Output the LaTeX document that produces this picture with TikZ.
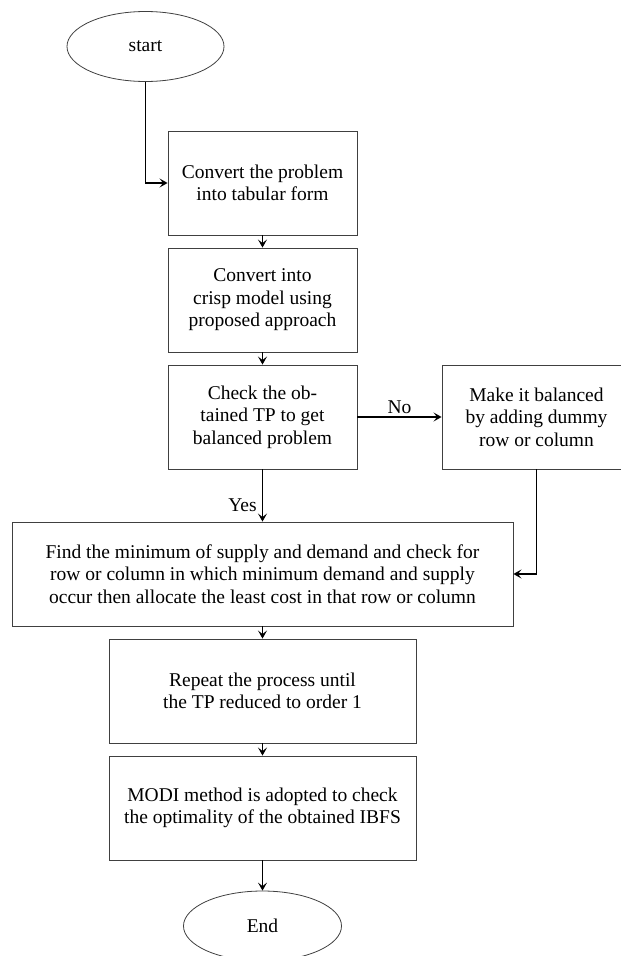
\documentclass[tikz,border=0pt]{standalone}
\usepackage{fontspec}
\setmainfont{Liberation Serif}
\usetikzlibrary{shapes.geometric,arrows.meta}
\tikzset{
  txt/.style={font=\fontsize{19.5}{22.5}\selectfont},
  procbox/.style={txt, draw=black!75, line width=0.9pt, rectangle, align=center, inner sep=0pt,
    minimum width=189pt, minimum height=104pt},
  widebox/.style={procbox, minimum width=501pt},
  midbox/.style={procbox, minimum width=307pt},
  term/.style={txt, draw=black!75, line width=0.8pt, ellipse, inner sep=0pt,
    minimum width=157pt, minimum height=70pt},
  flow/.style={line width=1.7pt, -{Stealth[length=8pt,width=9pt,inset=3.5pt]}},
  lbl/.style={txt, inner sep=2pt}
}
\begin{document}
\begin{tikzpicture}[x=1pt,y=-1pt]
\useasboundingbox (0,0) rectangle (621,956);
\node[term] (start) at (145.5,46.5) {start};
\node[procbox] (b1) at (262.5,183) {Convert the problem\\into tabular form};
\node[procbox] (b2) at (262.5,300) {Convert into\\crisp model using\\proposed approach};
\node[procbox] (b3) at (262.5,417) {Check the ob-\\tained TP to get\\balanced problem};
\node[procbox] (rb) at (536.5,417) {Make it balanced\\by adding dummy\\row or column};
\node[widebox] (big) at (262.5,574) {Find the minimum of supply and demand and check for\\row or column in which minimum demand and supply\\occur then allocate the least cost in that row or column};
\node[midbox] (b5) at (262.5,691) {Repeat the process until\\the TP reduced to order 1};
\node[midbox] (b6) at (262.5,808) {MODI method is adopted to check\\the optimality of the obtained IBFS};
\node[term, minimum width=158pt] (end) at (262.5,926) {End};

\draw[flow] (start.south) |- (b1.west);
\draw[flow] (b1) -- (b2);
\draw[flow] (b2) -- (b3);
\draw[flow] (b3) -- node[lbl, above] {No} (rb);
\draw[flow] (b3) -- node[lbl, pos=0.81, anchor=base east, xshift=-3pt] {Yes} (big);
\draw[flow] (rb.south) |- (big.east);
\draw[flow] (big) -- (b5);
\draw[flow] (b5) -- (b6);
\draw[flow] (b6) -- (end);
\end{tikzpicture}
\end{document}
